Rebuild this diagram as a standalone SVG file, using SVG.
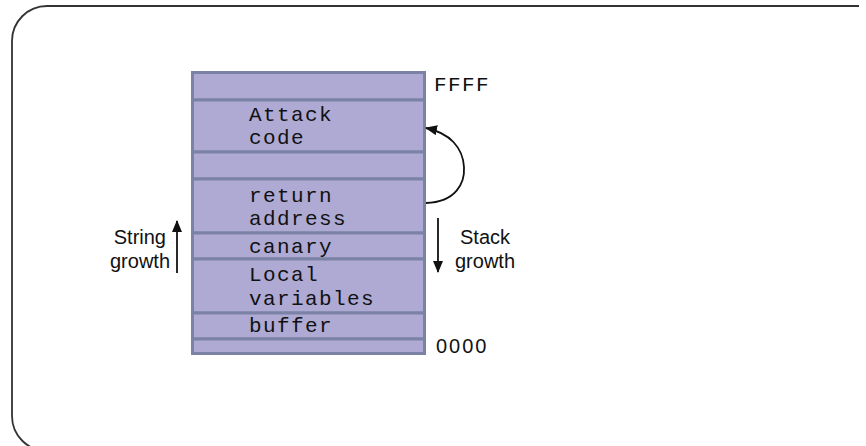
<svg xmlns="http://www.w3.org/2000/svg" width="866" height="446" viewBox="0 0 866 446">
<defs>
<style>
.cell{fill:#aeaad3;stroke:#7b82a6;stroke-width:3}
.mono{font-family:"Liberation Mono","Courier New",monospace;font-size:21px;letter-spacing:1.4px;fill:#111}
.sans{font-family:"Liberation Sans",Arial,sans-serif;font-size:20px;fill:#111}
.ln{fill:none;stroke:#111;stroke-width:1.8}
</style>
<marker id="ah" viewBox="0 0 12 10" refX="11" refY="5" markerWidth="12" markerHeight="10" markerUnits="userSpaceOnUse" orient="auto">
<path d="M0,0 L12,5 L0,10 Z" fill="#111"/>
</marker>
</defs>
<path id="frame" d="M859,6 L47,6 A35,35 0 0 0 12,41 L12,416 A35,35 0 0 0 47,451" fill="none" stroke="#333" stroke-width="1.8"/>
<g id="stack">
<g id="row-top"><rect class="cell" x="192.5" y="72.5" width="232" height="27.5"/></g>
<g id="row-attack"><rect class="cell" x="192.5" y="100" width="232" height="52"/><text class="mono" x="249" y="121">Attack</text><text class="mono" x="249" y="144">code</text></g>
<g id="row-gap"><rect class="cell" x="192.5" y="152" width="232" height="27"/></g>
<g id="row-return"><rect class="cell" x="192.5" y="179" width="232" height="54"/><text class="mono" x="249" y="202">return</text><text class="mono" x="249" y="225">address</text></g>
<g id="row-canary"><rect class="cell" x="192.5" y="233" width="232" height="26"/><text class="mono" x="249" y="253">canary</text></g>
<g id="row-local"><rect class="cell" x="192.5" y="259" width="232" height="54"/><text class="mono" x="249" y="281">Local</text><text class="mono" x="249" y="305">variables</text></g>
<g id="row-buffer"><rect class="cell" x="192.5" y="313" width="232" height="26"/><text class="mono" x="249" y="332">buffer</text></g>
<g id="row-bottom"><rect class="cell" x="192.5" y="339" width="232" height="14.5"/></g>
</g>
<g id="label-ffff"><text class="mono" x="434" y="91">FFFF</text></g>
<g id="label-0000"><text class="sans" x="436" y="353" letter-spacing="2">0000</text></g>
<g id="label-string"><text class="sans" text-anchor="end" x="166" y="244">String</text><text class="sans" text-anchor="end" x="170" y="268">growth</text></g>
<g id="label-stack"><text class="sans" text-anchor="middle" x="485" y="244">Stack</text><text class="sans" text-anchor="middle" x="485" y="268">growth</text></g>
<g id="connectors">
<path class="ln" d="M177,273 L177,221" marker-end="url(#ah)"/>
<path class="ln" d="M438,218 L438,272" marker-end="url(#ah)"/>
<path class="ln" d="M426,203 C456,202 465,183 464,167 C463,148 450,133 426,128" marker-end="url(#ah)"/>
</g>
</svg>
